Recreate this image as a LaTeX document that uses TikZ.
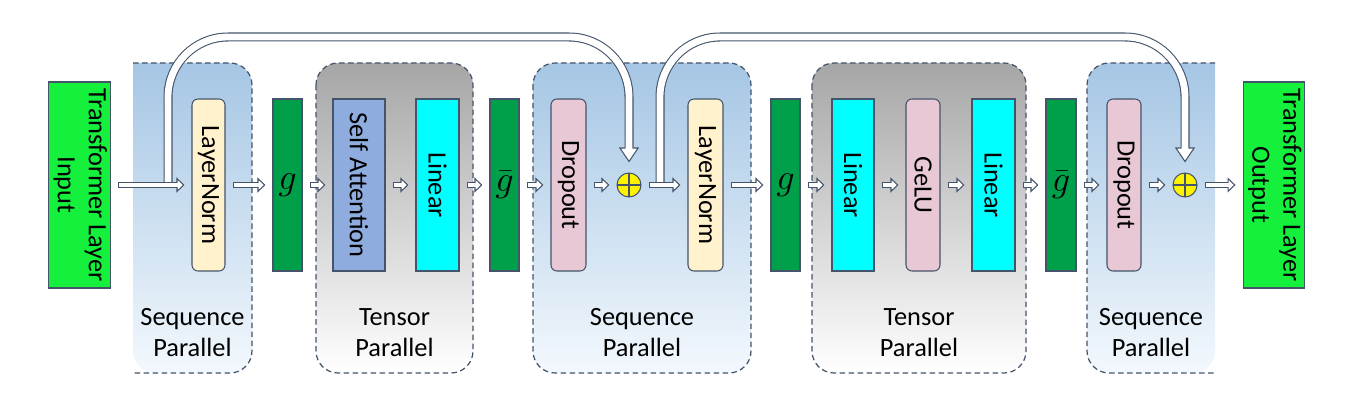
\documentclass[tikz,border=0pt]{standalone}
\usepackage{fontspec}
\setmainfont{Carlito}
\usepackage{graphicx}
\usetikzlibrary{arrows.meta}

\definecolor{edge}{RGB}{68,84,106}
\definecolor{iogreen}{RGB}{20,240,60}
\definecolor{ggreen}{RGB}{0,160,75}
\definecolor{normc}{RGB}{255,242,204}
\definecolor{attnc}{RGB}{143,172,222}
\definecolor{linc}{RGB}{0,255,255}
\definecolor{dropc}{RGB}{232,200,213}
\definecolor{seqtop}{RGB}{165,198,228}
\definecolor{seqbot}{RGB}{243,248,253}
\definecolor{tentop}{RGB}{166,166,166}

\tikzset{
  blk/.style={draw=edge, line width=0.6pt, inner sep=0pt, minimum height=34.4mm},
  rblk/.style={blk, rounded corners=1.2mm},
  io/.style={blk, fill=iogreen, minimum width=12.2mm, minimum height=41.2mm},
  region/.style={draw=edge, line width=0.7pt, dash pattern=on 1.1mm off 0.7mm},
  plus/.style={circle, draw=edge, line width=0.6pt, fill=yellow, minimum size=4.8mm, inner sep=0pt,
    path picture={\draw[edge, line width=0.6pt]
      (path picture bounding box.north) -- (path picture bounding box.south)
      (path picture bounding box.west) -- (path picture bounding box.east);}},
  flow/.style={draw=edge, line width=1.2mm,
    -{Triangle[length=1.6mm, width=3mm, fill=white, line width=0.6pt]},
    postaction={draw=white, line width=2.2pt, -, shorten <=0.6pt, shorten >=1.1mm}},
  skip/.style={draw=edge, line width=1.8mm, rounded corners=12mm,
    -{Triangle[length=3mm, width=4mm, fill=white, line width=0.6pt]},
    postaction={draw=white, line width=3.9pt, -, shorten >=2.4mm}},
}

\begin{document}
\begin{tikzpicture}[x=0.2mm, y=-0.2mm, font=\fontsize{15}{17.6}\selectfont]
\useasboundingbox (0,0) rectangle (1353,415);

% regions
\shade[top color=seqtop, bottom color=seqbot] (133,63) [rounded corners=4.4mm] -- (252,63) -- (252,373) -- (133,373) [sharp corners] -- cycle;
\draw[region] (133,63) [rounded corners=4.4mm] -- (252,63) -- (252,373) -- (133,373);
\shade[top color=tentop, bottom color=white, rounded corners=4.4mm] (316,63) rectangle (473,373);
\draw[region, rounded corners=4.4mm] (316,63) rectangle (473,373);
\shade[top color=seqtop, bottom color=seqbot, rounded corners=4.4mm] (533,63) rectangle (751,373);
\draw[region, rounded corners=4.4mm] (533,63) rectangle (751,373);
\shade[top color=tentop, bottom color=white, rounded corners=4.4mm] (812,63) rectangle (1026,373);
\draw[region, rounded corners=4.4mm] (812,63) rectangle (1026,373);
\shade[top color=seqtop, bottom color=seqbot] (1215,63) [rounded corners=4.4mm] -- (1087,63) -- (1087,373) -- (1215,373) [sharp corners] -- cycle;
\draw[region] (1215,63) [rounded corners=4.4mm] -- (1087,63) -- (1087,373) -- (1215,373);

\node[align=center] at (192.5,333) {Sequence\\Parallel};
\node[align=center] at (394.5,333) {Tensor\\Parallel};
\node[align=center] at (642,333) {Sequence\\Parallel};
\node[align=center] at (919,333) {Tensor\\Parallel};
\node[align=center] at (1151,333) {Sequence\\Parallel};

% blocks
\node[io] (in) at (79.5,185) {\rotatebox{-90}{\begin{tabular}{@{}c@{}}Transformer Layer\\Input\end{tabular}}};
\node[rblk, fill=normc, minimum width=6.6mm] (ln1) at (208.5,185) {\rotatebox{-90}{LayerNorm}};
\node[blk, fill=ggreen, minimum width=5.8mm] (g1) at (287.5,185) {\fontsize{20}{24}\selectfont$g$};
\node[blk, fill=attnc, minimum width=10.4mm] (sa) at (359,185) {\rotatebox{-90}{Self Attention}};
\node[blk, fill=linc, minimum width=8.6mm] (lin1) at (437.5,185) {\rotatebox{-90}{Linear}};
\node[blk, fill=ggreen, minimum width=5.8mm] (gb1) at (504.5,185) {\fontsize{20}{24}\selectfont$\bar{g}$};
\node[rblk, fill=dropc, minimum width=7mm] (do1) at (568.5,185) {\rotatebox{-90}{Dropout}};
\node[plus] (p1) at (629,185) {};
\node[rblk, fill=normc, minimum width=7mm] (ln2) at (705.5,185) {\rotatebox{-90}{LayerNorm}};
\node[blk, fill=ggreen, minimum width=5.8mm] (g2) at (785.5,185) {\fontsize{20}{24}\selectfont$g$};
\node[blk, fill=linc, minimum width=8.4mm] (lin2) at (853,185) {\rotatebox{-90}{Linear}};
\node[rblk, fill=dropc, minimum width=6.8mm] (gelu) at (923,185) {\rotatebox{-90}{GeLU}};
\node[blk, fill=linc, minimum width=8.6mm] (lin3) at (993.5,185) {\rotatebox{-90}{Linear}};
\node[blk, fill=ggreen, minimum width=6mm] (gb2) at (1061,185) {\fontsize{20}{24}\selectfont$\bar{g}$};
\node[rblk, fill=dropc, minimum width=6.8mm] (do2) at (1124,185) {\rotatebox{-90}{Dropout}};
\node[plus] (p2) at (1185,185) {};
\node[io] (out) at (1274,185) {\rotatebox{-90}{\begin{tabular}{@{}c@{}}Transformer Layer\\Output\end{tabular}}};

% residual connections
\coordinate (s1) at (168,185);
\coordinate (s2) at (660,185);
\draw[skip] (s1) -- ++(0,-148) -| ([yshift=2mm]p1.north);
\draw[skip] (s2) -- ++(0,-148) -| ([yshift=2mm]p2.north);

% data flow
\foreach \a/\b in {in/ln1, ln1/g1, g1/sa, sa/lin1, lin1/gb1, gb1/do1, do1/p1, p1/ln2,
                   ln2/g2, g2/lin2, lin2/gelu, gelu/lin3, lin3/gb2, gb2/do2, do2/p2, p2/out}
  \draw[flow] ([xshift=1.4mm]\a.east) -- ([xshift=-1.4mm]\b.west);

\end{tikzpicture}
\end{document}
